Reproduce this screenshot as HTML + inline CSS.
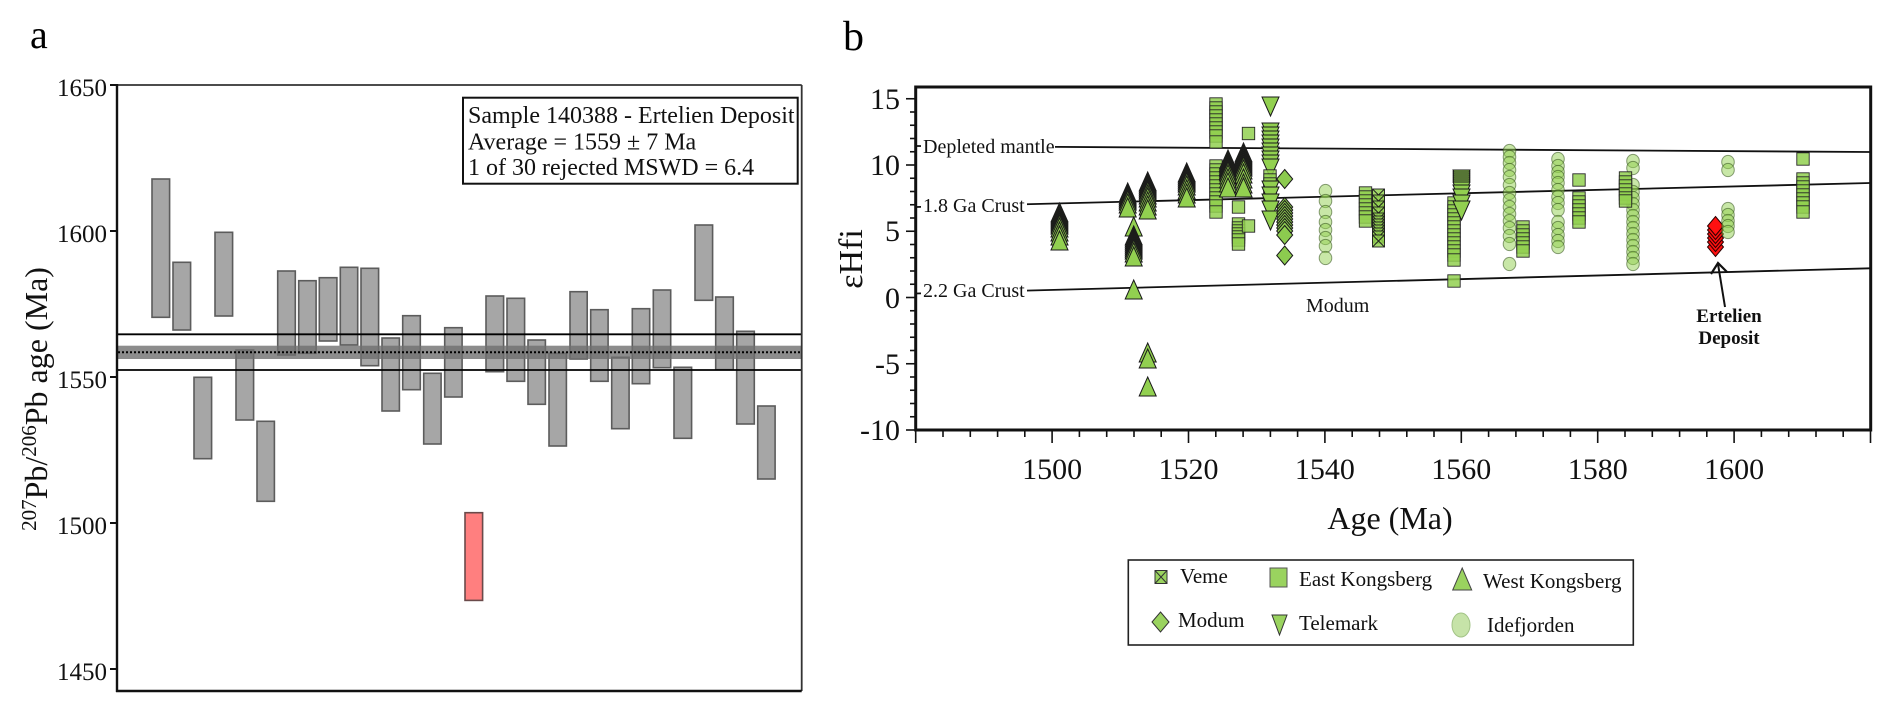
<!DOCTYPE html>
<html><head><meta charset="utf-8">
<style>
html,body{margin:0;padding:0;background:#fff;}
svg{display:block;font-family:"Liberation Serif","Times New Roman",serif;}
text{font-family:"Liberation Serif","Times New Roman",serif;}
.tu,.td{fill:#92d050;stroke:#1a1a1a;stroke-width:1;}
.sq{fill:rgba(146,208,80,0.85);stroke:#262626;stroke-width:0.9;}
.ci{fill:rgba(146,208,80,0.5);stroke:rgba(50,80,25,0.55);stroke-width:1;}
.dm{fill:#8ccb4f;stroke:#1a1a1a;stroke-width:1;}
.xs{fill:rgba(146,208,80,0.85);stroke:#1e1e1e;stroke-width:0.9;}
.rd{fill:#ff1010;stroke:#2a0000;stroke-width:1;}
.bar{fill:#a6a6a6;stroke:#5c5c5c;stroke-width:1.6;}
</style></head>
<body>
<svg width="1892" height="713" viewBox="0 0 1892 713" xmlns="http://www.w3.org/2000/svg" font-family="Liberation Serif, serif">
<defs>
<path id="tu" d="M0,-10 L8.5,9 L-8.5,9 Z"/>
<path id="td" d="M0,10 L8.5,-9 L-8.5,-9 Z"/>
<rect id="sq" x="-6.2" y="-6.2" width="12.4" height="12.4"/>
<path id="dm" d="M0,-9.5 L8,0 L0,9.5 L-8,0 Z"/>
<ellipse id="ci" cx="0" cy="0" rx="6.3" ry="6.6"/>
<g id="xs"><rect x="-6" y="-6" width="12" height="12"/><path d="M-6,-6 L6,6 M6,-6 L-6,6" fill="none"/></g>
</defs>
<rect width="1892" height="713" fill="#fff"/>

<!-- ================= PANEL A ================= -->
<text x="30" y="48" font-size="40" font-family="Liberation Serif, serif">a</text>
<g>
<rect class="bar" x="152" y="179" width="17.6" height="138.3"/>
<rect class="bar" x="173" y="262.3" width="17.6" height="67.7"/>
<rect class="bar" x="194" y="377.3" width="17.6" height="81.4"/>
<rect class="bar" x="215" y="232.3" width="17.6" height="83.7"/>
<rect class="bar" x="236" y="350" width="17.6" height="70"/>
<rect class="bar" x="257" y="421.3" width="17.4" height="80"/>
<rect class="bar" x="277.7" y="271" width="17.6" height="84"/>
<rect class="bar" x="298.7" y="280.7" width="17.4" height="72.6"/>
<rect class="bar" x="319.3" y="277.7" width="17.6" height="63.3"/>
<rect class="bar" x="340.3" y="267.3" width="17.4" height="77.7"/>
<rect class="bar" x="361" y="268.3" width="17.6" height="97.4"/>
<rect class="bar" x="382" y="338" width="17.4" height="73"/>
<rect class="bar" x="402.7" y="315.7" width="17.6" height="74"/>
<rect class="bar" x="423.7" y="373.3" width="17.4" height="70.7"/>
<rect class="bar" x="444.7" y="327.7" width="17.4" height="69.3"/>
<rect x="465" y="512.7" width="17.6" height="87.7" fill="#ff7f7f" stroke="#6a4a4a" stroke-width="1.6"/>
<rect class="bar" x="486" y="296" width="17.6" height="75.7"/>
<rect class="bar" x="507" y="298.3" width="17.6" height="83"/>
<rect class="bar" x="528" y="340" width="17.4" height="64.3"/>
<rect class="bar" x="549" y="353.3" width="17.4" height="92.7"/>
<rect class="bar" x="570" y="291.7" width="17.2" height="67.3"/>
<rect class="bar" x="590.7" y="309.7" width="17.4" height="71.6"/>
<rect class="bar" x="611.7" y="357.3" width="17.4" height="71.4"/>
<rect class="bar" x="632.3" y="308.7" width="17.4" height="75"/>
<rect class="bar" x="653.3" y="290" width="17.4" height="77.7"/>
<rect class="bar" x="674" y="367.3" width="17.6" height="71"/>
<rect class="bar" x="695" y="225" width="17.6" height="75.3"/>
<rect class="bar" x="715.7" y="297" width="17.6" height="72.7"/>
<rect class="bar" x="736.7" y="331.3" width="17.6" height="92.7"/>
<rect class="bar" x="757.7" y="406" width="17.4" height="73"/>
</g>
<rect x="118" y="345.7" width="683" height="13.3" fill="rgba(111,111,111,0.8)"/>
<line x1="118" y1="352.3" x2="801" y2="352.3" stroke="#000" stroke-width="2" stroke-dasharray="2,2"/>
<line x1="118" y1="334.3" x2="801" y2="334.3" stroke="#000" stroke-width="1.8"/>
<line x1="118" y1="370" x2="801" y2="370" stroke="#000" stroke-width="1.8"/>
<line x1="117" y1="85" x2="801.7" y2="85" stroke="#333" stroke-width="1.8"/>
<line x1="801.7" y1="85" x2="801.7" y2="691" stroke="#333" stroke-width="1.8"/>
<line x1="117" y1="84" x2="117" y2="692" stroke="#111" stroke-width="2.4"/>
<line x1="116" y1="691" x2="801.7" y2="691" stroke="#111" stroke-width="2.4"/>
<g stroke="#111" stroke-width="2">
<line x1="110" y1="85" x2="117" y2="85"/>
<line x1="110" y1="231" x2="117" y2="231"/>
<line x1="110" y1="377" x2="117" y2="377"/>
<line x1="110" y1="523" x2="117" y2="523"/>
<line x1="110" y1="669" x2="117" y2="669"/>
</g>
<g font-size="25" text-anchor="end" fill="#111" font-family="Liberation Serif, serif">
<text x="107" y="96" font-family="Liberation Serif, serif">1650</text>
<text x="107" y="242" font-family="Liberation Serif, serif">1600</text>
<text x="107" y="388" font-family="Liberation Serif, serif">1550</text>
<text x="107" y="534" font-family="Liberation Serif, serif">1500</text>
<text x="107" y="680" font-family="Liberation Serif, serif">1450</text>
</g>
<text transform="translate(47,399) rotate(-90)" font-size="32" text-anchor="middle" fill="#111" font-family="Liberation Serif, serif"><tspan font-size="21" dy="-11">207</tspan><tspan dy="11">Pb/</tspan><tspan font-size="21" dy="-11">206</tspan><tspan dy="11">Pb age (Ma)</tspan></text>
<rect x="463" y="97.7" width="334.7" height="86" fill="#fff" stroke="#111" stroke-width="2"/>
<g font-size="24" fill="#111" font-family="Liberation Serif, serif">
<text x="468" y="123">Sample 140388 - Ertelien Deposit</text>
<text x="468" y="149.5">Average = 1559 ± 7 Ma</text>
<text x="468" y="175">1 of 30 rejected MSWD = 6.4</text>
</g>

<!-- ================= PANEL B ================= -->
<text x="843" y="50" font-size="42" font-family="Liberation Serif, serif">b</text>

<g stroke="#111" stroke-width="1.8">
<line x1="916" y1="146" x2="1870" y2="152"/>
<line x1="916" y1="207" x2="1870" y2="183"/>
<line x1="916" y1="293.5" x2="1870" y2="268.3"/>
</g>
<rect x="921" y="134" width="134" height="24" fill="#fff"/>
<rect x="921" y="193" width="106" height="24" fill="#fff"/>
<rect x="921" y="279" width="106" height="24" fill="#fff"/>
<g font-size="20" fill="#111" font-family="Liberation Serif, serif">
<text x="923" y="153">Depleted mantle</text>
<text x="923" y="212">1.8 Ga Crust</text>
<text x="923" y="297">2.2 Ga Crust</text>
<text x="1306" y="312">Modum</text>
</g>

<g class="tu">
<use href="#tu" x="1059.5" y="213"/><use href="#tu" x="1059.5" y="215"/><use href="#tu" x="1059.5" y="217"/><use href="#tu" x="1059.5" y="219"/><use href="#tu" x="1059.5" y="221"/><use href="#tu" x="1059.5" y="223"/><use href="#tu" x="1059.5" y="225"/><use href="#tu" x="1059.5" y="228"/><use href="#tu" x="1059.5" y="232"/><use href="#tu" x="1059.5" y="236"/><use href="#tu" x="1059.5" y="241"/>
<use href="#tu" x="1127.7" y="193"/><use href="#tu" x="1127.7" y="195"/><use href="#tu" x="1127.7" y="197"/><use href="#tu" x="1127.7" y="199"/><use href="#tu" x="1127.7" y="201"/><use href="#tu" x="1127.7" y="204"/><use href="#tu" x="1127.7" y="208"/>
<use href="#tu" x="1133.7" y="227"/><use href="#tu" x="1133.7" y="236"/><use href="#tu" x="1133.7" y="238"/><use href="#tu" x="1133.7" y="240"/><use href="#tu" x="1133.7" y="242"/><use href="#tu" x="1133.7" y="244"/><use href="#tu" x="1133.7" y="246"/><use href="#tu" x="1133.7" y="248"/><use href="#tu" x="1133.7" y="250"/><use href="#tu" x="1133.7" y="253"/><use href="#tu" x="1133.7" y="257"/>
<use href="#tu" x="1133.7" y="290"/>
<use href="#tu" x="1147.7" y="182"/><use href="#tu" x="1147.7" y="184"/><use href="#tu" x="1147.7" y="186"/><use href="#tu" x="1147.7" y="188"/><use href="#tu" x="1147.7" y="190"/><use href="#tu" x="1147.7" y="192"/><use href="#tu" x="1147.7" y="195"/><use href="#tu" x="1147.7" y="198"/><use href="#tu" x="1147.7" y="202"/><use href="#tu" x="1147.7" y="206"/><use href="#tu" x="1147.7" y="210"/>
<use href="#tu" x="1147.7" y="353"/><use href="#tu" x="1147.7" y="359"/><use href="#tu" x="1147.7" y="387"/>
<use href="#tu" x="1186.7" y="173"/><use href="#tu" x="1186.7" y="175"/><use href="#tu" x="1186.7" y="177"/><use href="#tu" x="1186.7" y="179"/><use href="#tu" x="1186.7" y="181"/><use href="#tu" x="1186.7" y="183"/><use href="#tu" x="1186.7" y="186"/><use href="#tu" x="1186.7" y="190"/><use href="#tu" x="1186.7" y="194"/><use href="#tu" x="1186.7" y="198"/>
</g>
<g class="sq">
<use href="#sq" x="1216" y="104"/><use href="#sq" x="1216" y="108"/><use href="#sq" x="1216" y="112"/><use href="#sq" x="1216" y="116"/><use href="#sq" x="1216" y="120"/><use href="#sq" x="1216" y="124"/><use href="#sq" x="1216" y="128"/><use href="#sq" x="1216" y="132"/><use href="#sq" x="1216" y="136"/><use href="#sq" x="1216" y="142"/>
<use href="#sq" x="1216" y="166"/><use href="#sq" x="1216" y="170"/><use href="#sq" x="1216" y="174"/><use href="#sq" x="1216" y="178"/><use href="#sq" x="1216" y="182"/><use href="#sq" x="1216" y="186"/><use href="#sq" x="1216" y="190"/><use href="#sq" x="1216" y="194"/><use href="#sq" x="1216" y="198"/><use href="#sq" x="1216" y="202"/><use href="#sq" x="1216" y="206"/><use href="#sq" x="1216" y="212"/>
<use href="#sq" x="1238.5" y="207"/><use href="#sq" x="1238.5" y="224"/><use href="#sq" x="1238.5" y="228"/><use href="#sq" x="1238.5" y="231"/><use href="#sq" x="1238.5" y="234"/><use href="#sq" x="1238.5" y="237"/><use href="#sq" x="1238.5" y="240"/><use href="#sq" x="1238.5" y="244"/>
<use href="#sq" x="1248.5" y="133.5"/><use href="#sq" x="1248.5" y="226"/>
</g>
<g class="tu">
<use href="#tu" x="1228" y="160"/><use href="#tu" x="1228" y="162"/><use href="#tu" x="1228" y="164"/><use href="#tu" x="1228" y="166"/><use href="#tu" x="1228" y="168"/><use href="#tu" x="1228" y="170"/><use href="#tu" x="1228" y="172"/><use href="#tu" x="1228" y="175"/><use href="#tu" x="1228" y="179"/><use href="#tu" x="1228" y="183"/><use href="#tu" x="1228" y="188"/>
<use href="#tu" x="1243.5" y="153"/><use href="#tu" x="1243.5" y="155"/><use href="#tu" x="1243.5" y="157"/><use href="#tu" x="1243.5" y="159"/><use href="#tu" x="1243.5" y="161"/><use href="#tu" x="1243.5" y="163"/><use href="#tu" x="1243.5" y="165"/><use href="#tu" x="1243.5" y="167"/><use href="#tu" x="1243.5" y="170"/><use href="#tu" x="1243.5" y="174"/><use href="#tu" x="1243.5" y="179"/><use href="#tu" x="1243.5" y="184"/><use href="#tu" x="1243.5" y="188"/>
</g>
<g class="td">
<use href="#td" x="1270.5" y="106"/>
<use href="#td" x="1270.5" y="132"/><use href="#td" x="1270.5" y="136"/><use href="#td" x="1270.5" y="140"/><use href="#td" x="1270.5" y="144"/><use href="#td" x="1270.5" y="148"/><use href="#td" x="1270.5" y="152"/><use href="#td" x="1270.5" y="156"/><use href="#td" x="1270.5" y="160"/><use href="#td" x="1270.5" y="164"/><use href="#td" x="1270.5" y="168"/>
</g>
<g class="sq">
<use href="#sq" x="1270" y="176"/><use href="#sq" x="1270" y="180"/><use href="#sq" x="1270" y="184"/><use href="#sq" x="1270" y="188"/><use href="#sq" x="1270" y="192"/><use href="#sq" x="1270" y="197"/>
</g>
<g class="td">
<use href="#td" x="1270.5" y="190"/><use href="#td" x="1270.5" y="196"/><use href="#td" x="1270.5" y="203"/><use href="#td" x="1270.5" y="210"/><use href="#td" x="1270.5" y="220"/>
</g>
<g class="dm">
<use href="#dm" x="1284.7" y="179"/>
<use href="#dm" x="1284.7" y="207"/><use href="#dm" x="1284.7" y="210"/><use href="#dm" x="1284.7" y="213"/><use href="#dm" x="1284.7" y="216"/><use href="#dm" x="1284.7" y="219"/><use href="#dm" x="1284.7" y="222"/><use href="#dm" x="1284.7" y="225"/><use href="#dm" x="1284.7" y="228"/><use href="#dm" x="1284.7" y="231"/><use href="#dm" x="1284.7" y="235"/>
<use href="#dm" x="1284.7" y="255.5"/>
</g>
<g class="ci">
<use href="#ci" x="1325.5" y="191"/><use href="#ci" x="1325.5" y="201"/><use href="#ci" x="1325.5" y="212"/><use href="#ci" x="1325.5" y="222"/><use href="#ci" x="1325.5" y="230"/><use href="#ci" x="1325.5" y="238"/><use href="#ci" x="1325.5" y="246"/><use href="#ci" x="1325.5" y="258"/>
</g>
<g class="sq">
<use href="#sq" x="1365.5" y="193"/><use href="#sq" x="1365.5" y="197"/><use href="#sq" x="1365.5" y="201"/><use href="#sq" x="1365.5" y="205"/><use href="#sq" x="1365.5" y="209"/><use href="#sq" x="1365.5" y="213"/><use href="#sq" x="1365.5" y="217"/><use href="#sq" x="1365.5" y="221"/>
</g>
<g class="xs">
<use href="#xs" x="1378.5" y="195"/><use href="#xs" x="1378.5" y="201"/><use href="#xs" x="1378.5" y="207"/><use href="#xs" x="1378.5" y="213"/><use href="#xs" x="1378.5" y="219"/><use href="#xs" x="1378.5" y="222"/><use href="#xs" x="1378.5" y="225"/><use href="#xs" x="1378.5" y="228"/><use href="#xs" x="1378.5" y="231"/><use href="#xs" x="1378.5" y="234"/><use href="#xs" x="1378.5" y="237"/><use href="#xs" x="1378.5" y="241"/>
</g>
<g class="sq">
<use href="#sq" x="1454" y="203"/><use href="#sq" x="1454" y="207"/><use href="#sq" x="1454" y="211"/><use href="#sq" x="1454" y="215"/><use href="#sq" x="1454" y="219"/><use href="#sq" x="1454" y="223"/><use href="#sq" x="1454" y="227"/><use href="#sq" x="1454" y="231"/><use href="#sq" x="1454" y="235"/><use href="#sq" x="1454" y="239"/><use href="#sq" x="1454" y="243"/><use href="#sq" x="1454" y="247"/><use href="#sq" x="1454" y="251"/><use href="#sq" x="1454" y="255"/><use href="#sq" x="1454" y="260"/>
<use href="#sq" x="1454" y="281"/>
</g>
<g class="td">
<use href="#td" x="1461.5" y="179"/><use href="#td" x="1461.5" y="181"/><use href="#td" x="1461.5" y="183"/><use href="#td" x="1461.5" y="185"/><use href="#td" x="1461.5" y="187"/><use href="#td" x="1461.5" y="189"/><use href="#td" x="1461.5" y="191"/><use href="#td" x="1461.5" y="194"/><use href="#td" x="1461.5" y="198"/><use href="#td" x="1461.5" y="204"/><use href="#td" x="1461.5" y="210"/>
</g>
<g class="ci">
<use href="#ci" x="1509.5" y="151"/><use href="#ci" x="1509.5" y="157"/><use href="#ci" x="1509.5" y="163"/><use href="#ci" x="1509.5" y="170"/><use href="#ci" x="1509.5" y="177"/><use href="#ci" x="1509.5" y="185"/><use href="#ci" x="1509.5" y="193"/><use href="#ci" x="1509.5" y="200"/><use href="#ci" x="1509.5" y="207"/><use href="#ci" x="1509.5" y="214"/><use href="#ci" x="1509.5" y="221"/><use href="#ci" x="1509.5" y="228"/><use href="#ci" x="1509.5" y="236"/><use href="#ci" x="1509.5" y="244"/><use href="#ci" x="1509.5" y="264"/>
</g>
<g class="sq">
<use href="#sq" x="1523" y="227"/><use href="#sq" x="1523" y="231"/><use href="#sq" x="1523" y="235"/><use href="#sq" x="1523" y="239"/><use href="#sq" x="1523" y="243"/><use href="#sq" x="1523" y="247"/><use href="#sq" x="1523" y="251"/>
</g>
<g class="ci">
<use href="#ci" x="1558" y="159"/><use href="#ci" x="1558" y="166"/><use href="#ci" x="1558" y="172"/><use href="#ci" x="1558" y="177"/><use href="#ci" x="1558" y="183"/><use href="#ci" x="1558" y="190"/><use href="#ci" x="1558" y="197"/><use href="#ci" x="1558" y="203"/><use href="#ci" x="1558" y="210"/><use href="#ci" x="1558" y="222"/><use href="#ci" x="1558" y="228"/><use href="#ci" x="1558" y="235"/><use href="#ci" x="1558" y="241"/><use href="#ci" x="1558" y="247"/>
</g>
<g class="sq">
<use href="#sq" x="1579" y="180"/><use href="#sq" x="1579" y="198"/><use href="#sq" x="1579" y="202"/><use href="#sq" x="1579" y="206"/><use href="#sq" x="1579" y="210"/><use href="#sq" x="1579" y="214"/><use href="#sq" x="1579" y="218"/><use href="#sq" x="1579" y="222"/>
</g>
<g class="ci">
<use href="#ci" x="1633" y="161"/><use href="#ci" x="1633" y="168"/><use href="#ci" x="1633" y="185"/><use href="#ci" x="1633" y="192"/><use href="#ci" x="1633" y="198"/><use href="#ci" x="1633" y="204"/><use href="#ci" x="1633" y="210"/><use href="#ci" x="1633" y="216"/><use href="#ci" x="1633" y="222"/><use href="#ci" x="1633" y="228"/><use href="#ci" x="1633" y="234"/><use href="#ci" x="1633" y="240"/><use href="#ci" x="1633" y="246"/><use href="#ci" x="1633" y="252"/><use href="#ci" x="1633" y="258"/><use href="#ci" x="1633" y="264"/>
</g>
<g class="sq">
<use href="#sq" x="1625.5" y="178"/><use href="#sq" x="1625.5" y="182"/><use href="#sq" x="1625.5" y="186"/><use href="#sq" x="1625.5" y="190"/><use href="#sq" x="1625.5" y="194"/><use href="#sq" x="1625.5" y="198"/><use href="#sq" x="1625.5" y="201"/>
</g>
<g class="rd">
<use href="#dm" x="1715.5" y="247"/><use href="#dm" x="1715.5" y="242"/><use href="#dm" x="1715.5" y="238"/><use href="#dm" x="1715.5" y="234"/><use href="#dm" x="1715.5" y="230"/><use href="#dm" x="1715.5" y="226"/>
</g>
<g class="ci">
<use href="#ci" x="1728" y="162"/><use href="#ci" x="1728" y="170"/><use href="#ci" x="1728" y="209"/><use href="#ci" x="1728" y="215"/><use href="#ci" x="1728" y="221"/><use href="#ci" x="1728" y="226"/><use href="#ci" x="1728" y="232"/>
</g>
<g class="sq">
<use href="#sq" x="1803" y="159"/><use href="#sq" x="1803" y="179"/><use href="#sq" x="1803" y="183"/><use href="#sq" x="1803" y="187"/><use href="#sq" x="1803" y="191"/><use href="#sq" x="1803" y="195"/><use href="#sq" x="1803" y="199"/><use href="#sq" x="1803" y="203"/><use href="#sq" x="1803" y="207"/><use href="#sq" x="1803" y="212"/>
</g>
<line x1="1725" y1="307" x2="1718" y2="264" stroke="#111" stroke-width="2"/>
<path d="M1711,274 L1718,263 L1727,272" fill="none" stroke="#111" stroke-width="2.2"/>
<g font-size="19" font-weight="bold" text-anchor="middle" fill="#111" font-family="Liberation Serif, serif">
<text x="1729" y="322">Ertelien</text>
<text x="1729" y="344">Deposit</text>
</g>

<rect x="915.7" y="87" width="955" height="343" fill="none" stroke="#111" stroke-width="3"/>
<g stroke="#111" stroke-width="1.6">
<line x1="906" y1="98.75" x2="915" y2="98.75"/><line x1="910" y1="112" x2="915" y2="112"/><line x1="910" y1="125.25" x2="915" y2="125.25"/><line x1="910" y1="138.5" x2="915" y2="138.5"/><line x1="910" y1="151.75" x2="915" y2="151.75"/>
<line x1="906" y1="165" x2="915" y2="165"/><line x1="910" y1="178.25" x2="915" y2="178.25"/><line x1="910" y1="191.5" x2="915" y2="191.5"/><line x1="910" y1="204.75" x2="915" y2="204.75"/><line x1="910" y1="218" x2="915" y2="218"/>
<line x1="906" y1="231.25" x2="915" y2="231.25"/><line x1="910" y1="244.5" x2="915" y2="244.5"/><line x1="910" y1="257.75" x2="915" y2="257.75"/><line x1="910" y1="271" x2="915" y2="271"/><line x1="910" y1="284.25" x2="915" y2="284.25"/>
<line x1="906" y1="297.5" x2="915" y2="297.5"/><line x1="910" y1="310.75" x2="915" y2="310.75"/><line x1="910" y1="324" x2="915" y2="324"/><line x1="910" y1="337.25" x2="915" y2="337.25"/><line x1="910" y1="350.5" x2="915" y2="350.5"/>
<line x1="906" y1="363.75" x2="915" y2="363.75"/><line x1="910" y1="377" x2="915" y2="377"/><line x1="910" y1="390.25" x2="915" y2="390.25"/><line x1="910" y1="403.5" x2="915" y2="403.5"/><line x1="910" y1="416.75" x2="915" y2="416.75"/>
<line x1="906" y1="430" x2="915" y2="430"/>
</g>
<g font-size="30" text-anchor="end" fill="#111" font-family="Liberation Serif, serif">
<text x="900" y="109" font-family="Liberation Serif, serif">15</text>
<text x="900" y="175" font-family="Liberation Serif, serif">10</text>
<text x="900" y="241" font-family="Liberation Serif, serif">5</text>
<text x="900" y="308" font-family="Liberation Serif, serif">0</text>
<text x="900" y="374" font-family="Liberation Serif, serif">-5</text>
<text x="900" y="440" font-family="Liberation Serif, serif">-10</text>
</g>
<g stroke="#111" stroke-width="1.6">
<line x1="943" y1="430" x2="943" y2="437"/><line x1="970.3" y1="430" x2="970.3" y2="437"/><line x1="997.6" y1="430" x2="997.6" y2="437"/><line x1="1024.8" y1="430" x2="1024.8" y2="437"/>
<line x1="1052.1" y1="430" x2="1052.1" y2="443"/>
<line x1="1079.4" y1="430" x2="1079.4" y2="437"/><line x1="1106.7" y1="430" x2="1106.7" y2="437"/><line x1="1134" y1="430" x2="1134" y2="437"/><line x1="1161.2" y1="430" x2="1161.2" y2="437"/>
<line x1="1188.5" y1="430" x2="1188.5" y2="443"/>
<line x1="1215.8" y1="430" x2="1215.8" y2="437"/><line x1="1243.1" y1="430" x2="1243.1" y2="437"/><line x1="1270.4" y1="430" x2="1270.4" y2="437"/><line x1="1297.6" y1="430" x2="1297.6" y2="437"/>
<line x1="1324.9" y1="430" x2="1324.9" y2="443"/>
<line x1="1352.2" y1="430" x2="1352.2" y2="437"/><line x1="1379.5" y1="430" x2="1379.5" y2="437"/><line x1="1406.8" y1="430" x2="1406.8" y2="437"/><line x1="1434" y1="430" x2="1434" y2="437"/>
<line x1="1461.3" y1="430" x2="1461.3" y2="443"/>
<line x1="1488.6" y1="430" x2="1488.6" y2="437"/><line x1="1515.9" y1="430" x2="1515.9" y2="437"/><line x1="1543.2" y1="430" x2="1543.2" y2="437"/><line x1="1570.4" y1="430" x2="1570.4" y2="437"/>
<line x1="1597.7" y1="430" x2="1597.7" y2="443"/>
<line x1="1625" y1="430" x2="1625" y2="437"/><line x1="1652.3" y1="430" x2="1652.3" y2="437"/><line x1="1679.6" y1="430" x2="1679.6" y2="437"/><line x1="1706.8" y1="430" x2="1706.8" y2="437"/>
<line x1="1734.1" y1="430" x2="1734.1" y2="443"/>
<line x1="1761.4" y1="430" x2="1761.4" y2="437"/><line x1="1788.7" y1="430" x2="1788.7" y2="437"/><line x1="1816" y1="430" x2="1816" y2="437"/><line x1="1843.2" y1="430" x2="1843.2" y2="437"/>
<line x1="1870.5" y1="430" x2="1870.5" y2="443"/>
<line x1="915.7" y1="430" x2="915.7" y2="443"/>
</g>
<g font-size="30" text-anchor="middle" fill="#111" font-family="Liberation Serif, serif">
<text x="1052.1" y="479" font-family="Liberation Serif, serif">1500</text>
<text x="1188.5" y="479" font-family="Liberation Serif, serif">1520</text>
<text x="1324.9" y="479" font-family="Liberation Serif, serif">1540</text>
<text x="1461.3" y="479" font-family="Liberation Serif, serif">1560</text>
<text x="1597.7" y="479" font-family="Liberation Serif, serif">1580</text>
<text x="1734.1" y="479" font-family="Liberation Serif, serif">1600</text>
</g>
<text x="1390" y="529" font-size="32" text-anchor="middle" fill="#111" font-family="Liberation Serif, serif">Age (Ma)</text>
<text transform="translate(862,259) rotate(-90)" font-size="34" text-anchor="middle" fill="#111" font-family="Liberation Serif, serif">εHfi</text>

<rect x="1128.3" y="560" width="505" height="85" fill="#fff" stroke="#222" stroke-width="1.6"/>
<g transform="translate(1161,577)" fill="#9ad35f" stroke="#333" stroke-width="1"><rect x="-6" y="-6.5" width="12" height="13"/><path d="M-6,-6.5 L6,6.5 M6,-6.5 L-6,6.5" fill="none"/></g>
<rect x="1270" y="568" width="17" height="19" fill="#9ad35f" stroke="#555" stroke-width="1"/>
<path d="M1462.2,568 L1471.7,590 L1452.7,590 Z" fill="#9ad35f" stroke="#444" stroke-width="1"/>
<path d="M1160.5,612 L1169,622 L1160.5,632 L1152,622 Z" fill="#9ad35f" stroke="#333" stroke-width="1"/>
<path d="M1272,615 L1287,615 L1279.5,635 Z" fill="#9ad35f" stroke="#333" stroke-width="1"/>
<ellipse cx="1461" cy="625" rx="9" ry="12" fill="#c6e3a8" stroke="#a3c487" stroke-width="1"/>
<g font-size="21" fill="#111" font-family="Liberation Serif, serif">
<text x="1180" y="583">Veme</text>
<text x="1299" y="586">East Kongsberg</text>
<text x="1483" y="588">West Kongsberg</text>
<text x="1178" y="627">Modum</text>
<text x="1299" y="630">Telemark</text>
<text x="1487" y="632">Idefjorden</text>
</g>
</svg>
</body></html>
